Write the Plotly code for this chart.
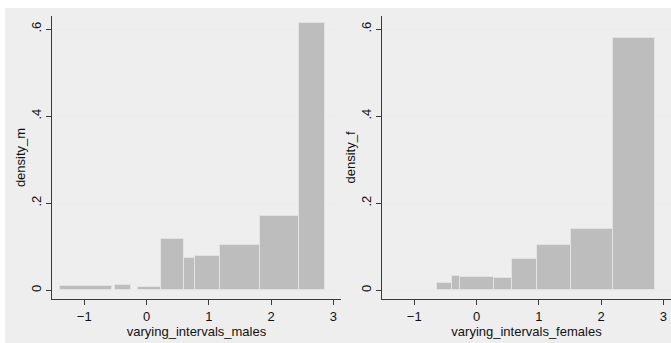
import plotly.graph_objects as go

# Histogram bins with varying widths: left edge, right edge, density
male_left = [-1.39, -0.50, -0.14, 0.233, 0.598, 0.784, 1.186, 1.823, 2.445]
male_right = [-0.56, -0.25, 0.233, 0.598, 0.784, 1.186, 1.823, 2.445, 2.867]
male_density = [0.010, 0.012, 0.007, 0.117, 0.074, 0.078, 0.105, 0.171, 0.613]

female_left = [-0.640, -0.399, -0.266, 0.276, 0.575, 0.971, 1.523, 2.197]
female_right = [-0.399, -0.266, 0.276, 0.575, 0.971, 1.523, 2.197, 2.872]
female_density = [0.016, 0.032, 0.030, 0.028, 0.072, 0.104, 0.141, 0.580]

ytick_vals = [0, 0.2, 0.4, 0.6]
ytick_text = ["0", ".2", ".4", ".6"]
xtick_vals = [-1, 0, 1, 2, 3]

W, H = 671, 343
FONT = "Liberation Sans, Arial, Helvetica, sans-serif"
BAR_FILL = "#bdbdbd"
BAR_EDGE = "#e2e2e2"
GRID = "#ececec"
AXIS = "#3a3a3a"

fig = go.Figure()


def add_hist(left, right, dens, xa, ya):
    widths = [r - l for l, r in zip(left, right)]
    fig.add_trace(go.Bar(
        x=left, y=dens, width=widths, offset=0,
        marker=dict(color=BAR_FILL, line=dict(color=BAR_EDGE, width=1)),
        xaxis=xa, yaxis=ya, showlegend=False, hoverinfo="skip",
    ))


add_hist(male_left, male_right, male_density, "x", "y")
add_hist(female_left, female_right, female_density, "x2", "y2")

ydom = [1 - 299 / H, 1 - 16 / H]
xrange_ = [-1.518, 3.124]
yrange_ = [-0.0202, 0.6299]

common_x = dict(
    range=xrange_, tickvals=xtick_vals, ticks="outside", ticklen=5,
    tickcolor=AXIS, showline=True, linecolor=AXIS, linewidth=1,
    showgrid=False, zeroline=False, tickfont=dict(size=13, color="#111"),
    title_font=dict(size=13, color="#111"), title_standoff=0,
)
common_y = dict(
    range=yrange_, tickvals=ytick_vals, ticktext=ytick_text, ticks="outside",
    ticklen=5, tickcolor=AXIS, showline=True, linecolor=AXIS, linewidth=1,
    showgrid=True, gridcolor=GRID, gridwidth=1, zeroline=False,
    tickangle=-90, tickfont=dict(size=13, color="#111"),
    title_font=dict(size=13, color="#111"), title_standoff=0,
)

fig.update_layout(
    width=W, height=H,
    margin=dict(l=0, r=0, t=0, b=0),
    paper_bgcolor="white", plot_bgcolor="white",
    font=dict(family=FONT, size=13, color="#111"),
    bargap=0,
    xaxis=dict(domain=[52 / W, 341 / W], anchor="y",
               title_text="varying_intervals_males", **common_x),
    yaxis=dict(domain=ydom, anchor="x", title_text="density_m", **common_y),
    xaxis2=dict(domain=[382 / W, 1.0], anchor="y2",
                title_text="varying_intervals_females", **common_x),
    yaxis2=dict(domain=ydom, anchor="x2", title_text="density_f", **common_y),
    shapes=[dict(
        type="rect", xref="paper", yref="paper",
        x0=5 / W, x1=1, y0=0, y1=1 - 8 / H,
        fillcolor="#eeeeee", line=dict(width=0), layer="below",
    )],
)

fig.write_html("out.html")
